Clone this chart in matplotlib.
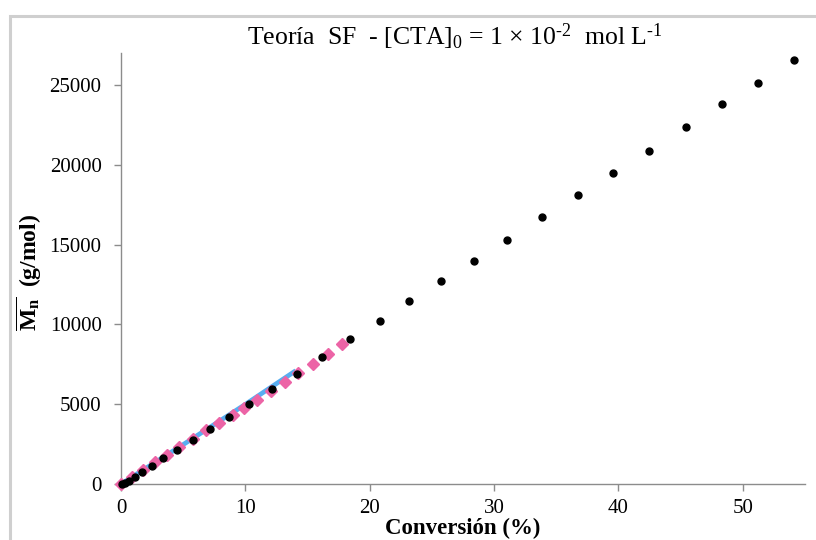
import matplotlib
matplotlib.use("Agg")
import matplotlib.pyplot as plt
from matplotlib.patches import Rectangle

plt.rcParams["font.family"] = ["Liberation Serif", "DejaVu Serif"]
plt.rcParams["mathtext.fontset"] = "custom"
plt.rcParams["mathtext.rm"] = "Liberation Serif"
plt.rcParams["mathtext.it"] = "Liberation Serif:italic"
plt.rcParams["mathtext.bf"] = "Liberation Serif:bold"

# experimental Mn vs conversion (black points)
conv_exp = [0.1, 0.32, 0.65, 1.10, 1.72, 2.52, 3.41, 4.52, 5.78, 7.12, 8.71, 10.30,
            12.12, 14.14, 16.19, 18.39, 20.8, 23.17, 25.73, 28.36, 31.05, 33.89,
            36.72, 39.57, 42.48, 45.43, 48.33, 51.23, 54.1]
mn_exp = [0, 81, 206, 456, 770, 1125, 1610, 2140, 2770, 3440, 4170, 5000,
          5960, 6890, 7940, 9060, 10190, 11440, 12690, 14000, 15310, 16730,
          18080, 19500, 20890, 22375, 23790, 25125, 26560]

# SF theory (pink diamonds)
conv_sf = [0.0, 0.9, 1.8, 2.7, 3.7, 4.7, 5.77, 6.83, 7.9, 8.98, 9.92, 10.91,
           12.07, 13.15, 14.23, 15.4, 16.65, 17.8]
mn_sf = [0, 437, 875, 1356, 1831, 2331, 2850, 3375, 3830, 4310, 4790, 5250,
         5830, 6375, 6970, 7540, 8125, 8750]

# fitted curve (blue)
conv_fit = [0.0, 5.0, 10.0, 13.9]
mn_fit = [0, 2470, 4990, 7020]

fig = plt.figure(figsize=(8.16, 5.4), dpi=100)
ax = fig.add_axes([0.1483, 0.1037, 0.8382, 0.7981])

# outer chart frame
fig.patches.append(Rectangle((9.5 / 816, -0.05), 1.2, 1 - 15.5 / 540 + 0.05,
                             transform=fig.transFigure, fill=False,
                             edgecolor="#cfcfcf", linewidth=2.2, zorder=0))

ax.plot(conv_fit, mn_fit, color="#58aef0", linewidth=3.4, zorder=2, clip_on=False)
ax.plot(conv_sf, mn_sf, linestyle="none", marker="D", markersize=6.5,
        color="#ec64a6", zorder=3, clip_on=False)
ax.plot(conv_exp, mn_exp, linestyle="none", marker="o", markersize=5,
        color="black", zorder=4, clip_on=False)

ax.set_xlim(0, 55)
ax.set_ylim(0, 27000)
ax.set_xticks([0, 10, 20, 30, 40, 50])
ax.set_yticks([0, 5000, 10000, 15000, 20000, 25000])

for side in ["top", "right"]:
    ax.spines[side].set_visible(False)
for side in ["left", "bottom"]:
    ax.spines[side].set_color("#8c8c8c")
    ax.spines[side].set_linewidth(1.0)

ax.tick_params(axis="both", direction="out", length=5, width=1.0,
               color="#8c8c8c", labelsize=15)
ax.tick_params(axis="y", pad=9)
ax.tick_params(axis="x", pad=6)

ax.set_xlabel("Conversión (%)", fontsize=16.5, fontweight="bold", va="bottom")
ax.xaxis.set_label_coords(0.5, -55 / 431)
ax.set_ylabel(r"$\mathbf{\overline{M_n}}$  (g/mol)", fontsize=17, fontweight="bold")
ax.yaxis.set_label_coords(-0.112, 0.49)

fig.text(455 / 816, 1 - 37 / 540,
         r"Teoría  SF  - [CTA]$_0$ = 1 × 10$^{\text{-}2}$  mol L$^{\text{-}1}$",
         ha="center", va="center", fontsize=18.5)

fig.savefig("out.png", dpi=100)
